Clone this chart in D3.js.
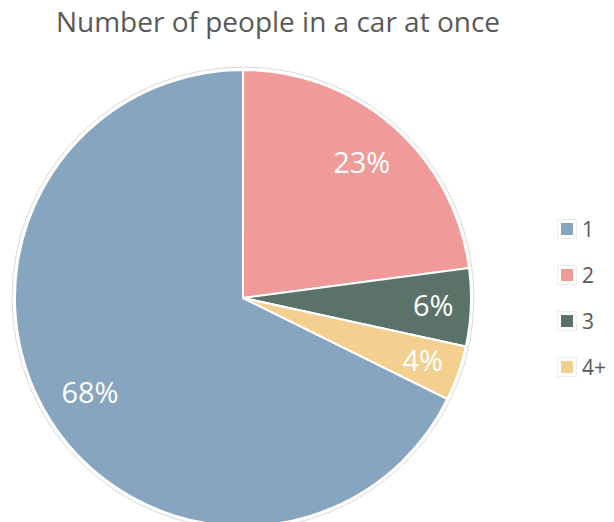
<!DOCTYPE html>
<html>
<head>
<meta charset="utf-8">
<script src="https://cdn.jsdelivr.net/npm/d3@7"></script>
<style>
  body { margin: 0; background: #fff; }
  svg { display: block; font-family: "Open Sans", sans-serif; }
  .chart-title { fill: #595959; font-size: 28px; }
  .slice-label { fill: #fff; font-size: 29px; }
  .legend-text { fill: #595959; font-size: 21px; }
</style>
</head>
<body>
<div id="chart"></div>
<script>
const categories = ["1", "2", "3", "4+"];
const shares = [67.7, 22.9, 5.5, 3.9];
const colors = ["#87A5BF", "#F09B99", "#5A7268", "#F3D08F"];

const width = 614;
const height = 522;
const cx = 243;
const cy = 298;
const radius = 228;

const svg = d3.select("#chart")
  .append("svg")
  .attr("width", width)
  .attr("height", height);

svg.append("text")
  .attr("class", "chart-title")
  .attr("x", 278)
  .attr("y", 32)
  .attr("text-anchor", "middle")
  .text("Number of people in a car at once");

const data = categories.map((c, i) => ({ cat: c, value: shares[i], color: colors[i] }));
const total = d3.sum(shares);

// slice "1" ends at 12 o'clock, the others follow clockwise
const start = 116.3 * Math.PI / 180;
const pie = d3.pie()
  .sort(null)
  .value(d => d.value)
  .startAngle(start)
  .endAngle(start + 2 * Math.PI);

const arc = d3.arc().innerRadius(0).outerRadius(radius);
// small slices get their label pushed a little further out
const labelArc = d3.arc()
  .innerRadius(d => radius * (d.data.value < 10 ? 0.835 : 0.79))
  .outerRadius(d => radius * (d.data.value < 10 ? 0.835 : 0.79));

const g = svg.append("g").attr("transform", `translate(${cx},${cy})`);

g.append("circle")
  .attr("r", radius + 3)
  .attr("fill", "none")
  .attr("stroke", "#d9d9d9")
  .attr("stroke-width", 1);

g.selectAll("path")
  .data(pie(data))
  .join("path")
  .attr("d", arc)
  .attr("fill", d => d.data.color)
  .attr("stroke", "#fff")
  .attr("stroke-width", 2);

g.selectAll(".slice-label")
  .data(pie(data))
  .join("text")
  .attr("class", "slice-label")
  .attr("transform", d => `translate(${labelArc.centroid(d)})`)
  .attr("text-anchor", "middle")
  .attr("dy", "0.36em")
  .text(d => Math.round(d.data.value / total * 100) + "%");

const legend = svg.append("g").attr("transform", "translate(567,229)");
const rows = legend.selectAll("g")
  .data(data)
  .join("g")
  .attr("transform", (d, i) => `translate(0,${i * 46})`);

rows.append("rect")
  .attr("x", -9.5)
  .attr("y", -9.5)
  .attr("width", 19)
  .attr("height", 19)
  .attr("fill", "#fff")
  .attr("stroke", "#ececec");

rows.append("rect")
  .attr("x", -6)
  .attr("y", -6)
  .attr("width", 12)
  .attr("height", 12)
  .attr("fill", d => d.color);

rows.append("text")
  .attr("class", "legend-text")
  .attr("x", 15)
  .attr("dy", "0.36em")
  .text(d => d.cat);
</script>
</body>
</html>
